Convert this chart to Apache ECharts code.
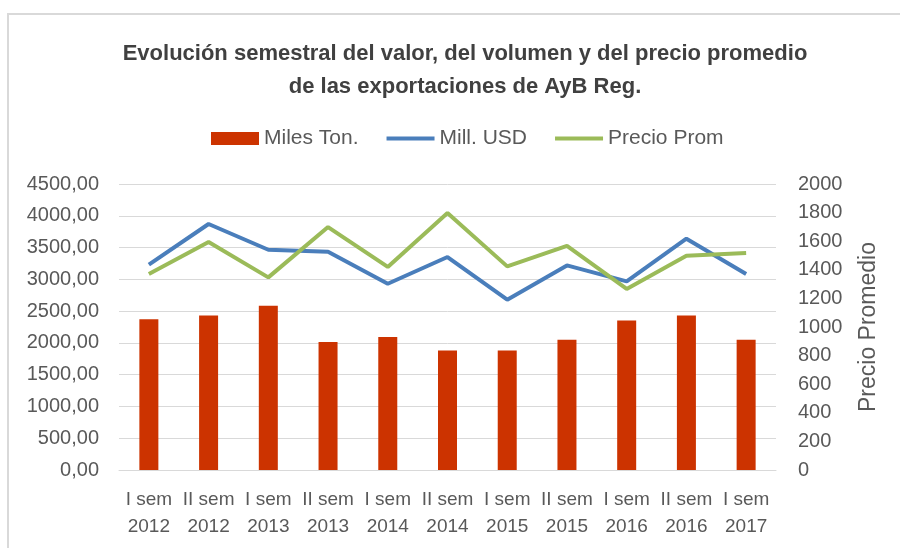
<!DOCTYPE html>
<html>
<head>
<meta charset="utf-8">
<script src="https://cdn.jsdelivr.net/npm/echarts@6/dist/echarts.min.js"></script>
<style>
  html, body { margin: 0; padding: 0; background: #fff; }
  #chart { width: 900px; height: 548px; }
</style>
</head>
<body>
<div id="chart"></div>
<script>
// semesters
const categories = [
  "I sem\n2012", "II sem\n2012", "I sem\n2013", "II sem\n2013", "I sem\n2014", "II sem\n2014",
  "I sem\n2015", "II sem\n2015", "I sem\n2016", "II sem\n2016", "I sem\n2017"
];
const milesTon = [2370, 2432, 2585, 2014, 2093, 1882, 1882, 2050, 2354, 2432, 2050];
const millUSD = [3230, 3871, 3466, 3435, 2931, 3351, 2680, 3219, 2968, 3639, 3084];
const precioProm = [1371, 1594, 1347, 1699, 1420, 1797, 1424, 1568, 1266, 1499, 1517];

const textColor = "#595959";
const font = "'Liberation Sans', Arial, sans-serif";
const lineIcon = "path://M0,0H50V4H0Z";

const chart = echarts.init(document.getElementById("chart"), null, { renderer: "canvas" });

const option = {
  animation: false,
  backgroundColor: "#fff",
  textStyle: { fontFamily: font },
  graphic: [
    {
      type: "rect",
      shape: { x: 8, y: 14, width: 1000, height: 700 },
      style: { fill: "none", stroke: "#D9D9D9", lineWidth: 2 },
    },
  ],
  title: {
    text: "Evolución semestral del valor, del volumen y del precio promedio\nde las exportaciones de AyB Reg.",
    left: 460,
    textAlign: "center",
    top: 32,
    textStyle: {
      fontFamily: font,
      fontSize: 22,
      fontWeight: "bold",
      color: "#404040",
      lineHeight: 33,
    },
  },
  legend: {
    top: 123,
    left: 206,
    itemGap: 28,
    itemWidth: 48,
    itemHeight: 13,
    textStyle: { fontFamily: font, fontSize: 21, color: textColor },
    data: [
      { name: "Miles Ton.", icon: "rect" },
      { name: "Mill. USD", icon: lineIcon },
      { name: "Precio Prom", icon: lineIcon },
    ],
  },
  grid: {
    left: 119,
    right: 124,
    top: 184,
    bottom: 78,
  },
  xAxis: {
    type: "category",
    data: categories,
    axisTick: { show: false },
    axisLine: { lineStyle: { color: "#D9D9D9", width: 1 } },
    axisLabel: {
      interval: 0,
      margin: 16,
      fontSize: 19,
      lineHeight: 27,
      color: textColor,
      fontFamily: font,
    },
  },
  yAxis: [
    {
      type: "value",
      min: 0,
      max: 4500,
      interval: 500,
      axisLine: { show: false },
      axisTick: { show: false },
      splitLine: { lineStyle: { color: "#D9D9D9", width: 1 } },
      axisLabel: {
        margin: 20,
        fontSize: 20,
        color: textColor,
        fontFamily: font,
        formatter: (v) => v.toFixed(2).replace(".", ","),
      },
    },
    {
      type: "value",
      min: 0,
      max: 2000,
      interval: 200,
      name: "Precio Promedio",
      nameLocation: "middle",
      nameGap: 81,
      nameTextStyle: { fontSize: 23, color: textColor, fontFamily: font },
      axisLine: { show: false },
      axisTick: { show: false },
      splitLine: { show: false },
      axisLabel: {
        margin: 22,
        fontSize: 20,
        color: textColor,
        fontFamily: font,
        formatter: (v) => String(v),
      },
    },
  ],
  series: [
    {
      name: "Miles Ton.",
      type: "bar",
      barWidth: 19,
      itemStyle: { color: "#CC3300" },
      data: milesTon,
    },
    {
      name: "Mill. USD",
      type: "line",
      yAxisIndex: 0,
      showSymbol: false,
      symbol: "none",
      lineStyle: { color: "#4A7EBB", width: 4 },
      itemStyle: { color: "#4A7EBB" },
      data: millUSD,
    },
    {
      name: "Precio Prom",
      type: "line",
      yAxisIndex: 1,
      showSymbol: false,
      symbol: "none",
      lineStyle: { color: "#9BBB59", width: 4 },
      itemStyle: { color: "#9BBB59" },
      data: precioProm,
    },
  ],
};

chart.setOption(option);
</script>
</body>
</html>
